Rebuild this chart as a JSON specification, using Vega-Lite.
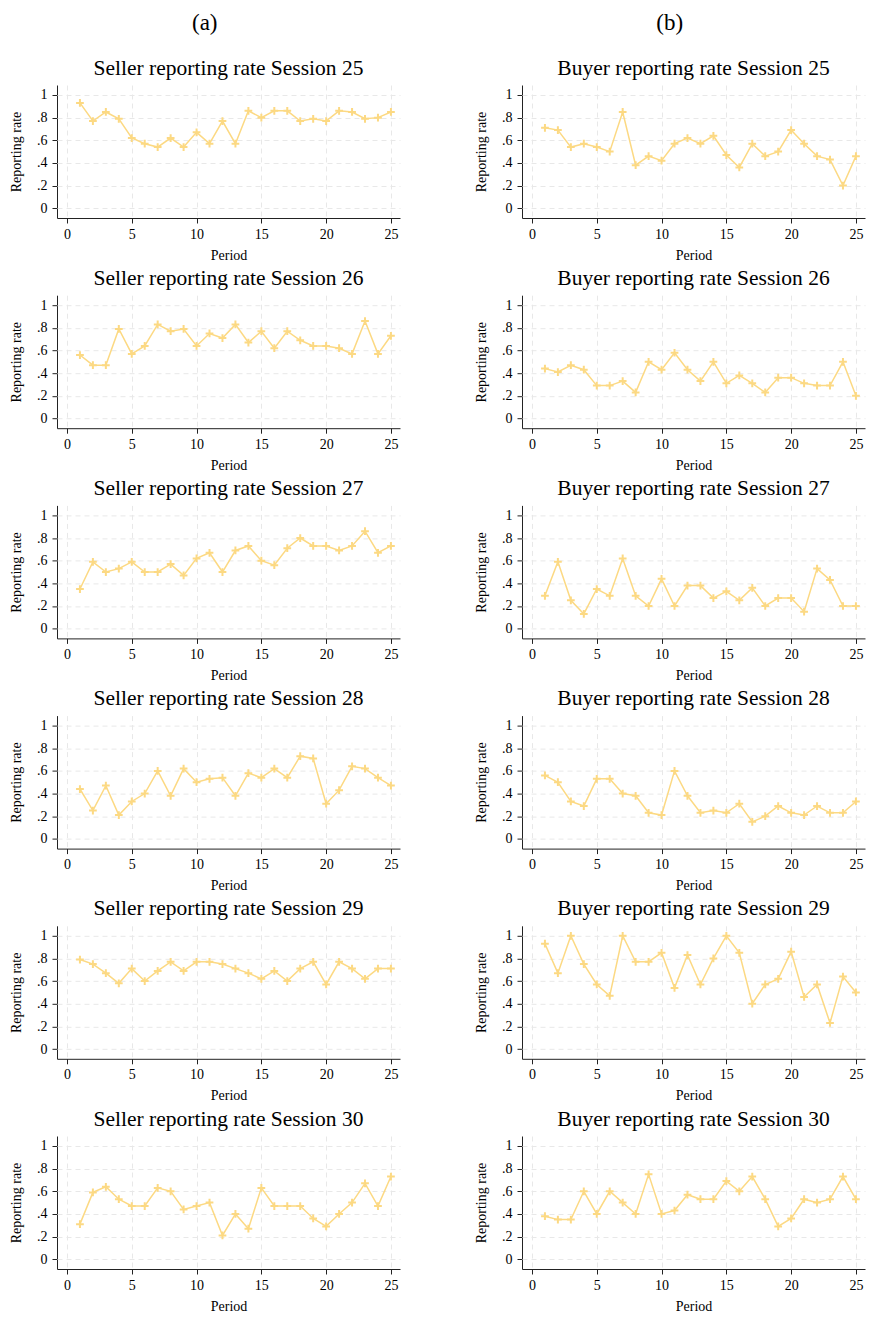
{
  "$schema": "https://vega.github.io/schema/vega-lite/v6.json",
  "background": "white",
  "padding": {"left": 9, "top": 11, "right": 2, "bottom": 2},
  "config": {
    "font": "Liberation Serif",
    "view": {"stroke": null},
    "axis": {
      "labelFont": "Liberation Serif",
      "titleFont": "Liberation Serif",
      "labelFontSize": 14,
      "titleFontSize": 14,
      "titleFontWeight": "normal",
      "labelColor": "black",
      "titleColor": "black",
      "domainColor": "#222222",
      "tickColor": "#222222",
      "tickSize": 5,
      "gridColor": "#e8e8e8",
      "gridDash": [5, 4],
      "gridWidth": 1
    },
    "header": {
      "labelFont": "Liberation Serif",
      "labelFontSize": 21.5,
      "labelColor": "black",
      "labelPadding": 6
    },
    "title": {"font": "Liberation Serif", "fontSize": 23, "fontWeight": "normal", "color": "black", "anchor": "middle"}
  },
  "data": {
    "values": [
      {"r":"S","s":25,"p":1,"v":0.93},{"r":"S","s":25,"p":2,"v":0.77},{"r":"S","s":25,"p":3,"v":0.85},{"r":"S","s":25,"p":4,"v":0.79},{"r":"S","s":25,"p":5,"v":0.62},{"r":"S","s":25,"p":6,"v":0.57},{"r":"S","s":25,"p":7,"v":0.54},{"r":"S","s":25,"p":8,"v":0.62},{"r":"S","s":25,"p":9,"v":0.54},{"r":"S","s":25,"p":10,"v":0.67},{"r":"S","s":25,"p":11,"v":0.57},{"r":"S","s":25,"p":12,"v":0.77},{"r":"S","s":25,"p":13,"v":0.57},{"r":"S","s":25,"p":14,"v":0.86},{"r":"S","s":25,"p":15,"v":0.80},{"r":"S","s":25,"p":16,"v":0.86},{"r":"S","s":25,"p":17,"v":0.86},{"r":"S","s":25,"p":18,"v":0.77},{"r":"S","s":25,"p":19,"v":0.79},{"r":"S","s":25,"p":20,"v":0.77},{"r":"S","s":25,"p":21,"v":0.86},{"r":"S","s":25,"p":22,"v":0.85},{"r":"S","s":25,"p":23,"v":0.79},{"r":"S","s":25,"p":24,"v":0.80},{"r":"S","s":25,"p":25,"v":0.85},
      {"r":"B","s":25,"p":1,"v":0.71},{"r":"B","s":25,"p":2,"v":0.69},{"r":"B","s":25,"p":3,"v":0.54},{"r":"B","s":25,"p":4,"v":0.57},{"r":"B","s":25,"p":5,"v":0.54},{"r":"B","s":25,"p":6,"v":0.50},{"r":"B","s":25,"p":7,"v":0.85},{"r":"B","s":25,"p":8,"v":0.38},{"r":"B","s":25,"p":9,"v":0.46},{"r":"B","s":25,"p":10,"v":0.42},{"r":"B","s":25,"p":11,"v":0.57},{"r":"B","s":25,"p":12,"v":0.62},{"r":"B","s":25,"p":13,"v":0.57},{"r":"B","s":25,"p":14,"v":0.64},{"r":"B","s":25,"p":15,"v":0.47},{"r":"B","s":25,"p":16,"v":0.36},{"r":"B","s":25,"p":17,"v":0.57},{"r":"B","s":25,"p":18,"v":0.46},{"r":"B","s":25,"p":19,"v":0.50},{"r":"B","s":25,"p":20,"v":0.69},{"r":"B","s":25,"p":21,"v":0.57},{"r":"B","s":25,"p":22,"v":0.46},{"r":"B","s":25,"p":23,"v":0.43},{"r":"B","s":25,"p":24,"v":0.20},{"r":"B","s":25,"p":25,"v":0.46},
      {"r":"S","s":26,"p":1,"v":0.56},{"r":"S","s":26,"p":2,"v":0.47},{"r":"S","s":26,"p":3,"v":0.47},{"r":"S","s":26,"p":4,"v":0.79},{"r":"S","s":26,"p":5,"v":0.57},{"r":"S","s":26,"p":6,"v":0.64},{"r":"S","s":26,"p":7,"v":0.83},{"r":"S","s":26,"p":8,"v":0.77},{"r":"S","s":26,"p":9,"v":0.79},{"r":"S","s":26,"p":10,"v":0.64},{"r":"S","s":26,"p":11,"v":0.75},{"r":"S","s":26,"p":12,"v":0.71},{"r":"S","s":26,"p":13,"v":0.83},{"r":"S","s":26,"p":14,"v":0.67},{"r":"S","s":26,"p":15,"v":0.77},{"r":"S","s":26,"p":16,"v":0.62},{"r":"S","s":26,"p":17,"v":0.77},{"r":"S","s":26,"p":18,"v":0.69},{"r":"S","s":26,"p":19,"v":0.64},{"r":"S","s":26,"p":20,"v":0.64},{"r":"S","s":26,"p":21,"v":0.62},{"r":"S","s":26,"p":22,"v":0.57},{"r":"S","s":26,"p":23,"v":0.86},{"r":"S","s":26,"p":24,"v":0.57},{"r":"S","s":26,"p":25,"v":0.73},
      {"r":"B","s":26,"p":1,"v":0.44},{"r":"B","s":26,"p":2,"v":0.41},{"r":"B","s":26,"p":3,"v":0.47},{"r":"B","s":26,"p":4,"v":0.43},{"r":"B","s":26,"p":5,"v":0.29},{"r":"B","s":26,"p":6,"v":0.29},{"r":"B","s":26,"p":7,"v":0.33},{"r":"B","s":26,"p":8,"v":0.23},{"r":"B","s":26,"p":9,"v":0.50},{"r":"B","s":26,"p":10,"v":0.43},{"r":"B","s":26,"p":11,"v":0.58},{"r":"B","s":26,"p":12,"v":0.43},{"r":"B","s":26,"p":13,"v":0.33},{"r":"B","s":26,"p":14,"v":0.50},{"r":"B","s":26,"p":15,"v":0.31},{"r":"B","s":26,"p":16,"v":0.38},{"r":"B","s":26,"p":17,"v":0.31},{"r":"B","s":26,"p":18,"v":0.23},{"r":"B","s":26,"p":19,"v":0.36},{"r":"B","s":26,"p":20,"v":0.36},{"r":"B","s":26,"p":21,"v":0.31},{"r":"B","s":26,"p":22,"v":0.29},{"r":"B","s":26,"p":23,"v":0.29},{"r":"B","s":26,"p":24,"v":0.50},{"r":"B","s":26,"p":25,"v":0.20},
      {"r":"S","s":27,"p":1,"v":0.35},{"r":"S","s":27,"p":2,"v":0.59},{"r":"S","s":27,"p":3,"v":0.50},{"r":"S","s":27,"p":4,"v":0.53},{"r":"S","s":27,"p":5,"v":0.59},{"r":"S","s":27,"p":6,"v":0.50},{"r":"S","s":27,"p":7,"v":0.50},{"r":"S","s":27,"p":8,"v":0.57},{"r":"S","s":27,"p":9,"v":0.47},{"r":"S","s":27,"p":10,"v":0.62},{"r":"S","s":27,"p":11,"v":0.67},{"r":"S","s":27,"p":12,"v":0.50},{"r":"S","s":27,"p":13,"v":0.69},{"r":"S","s":27,"p":14,"v":0.73},{"r":"S","s":27,"p":15,"v":0.60},{"r":"S","s":27,"p":16,"v":0.56},{"r":"S","s":27,"p":17,"v":0.71},{"r":"S","s":27,"p":18,"v":0.80},{"r":"S","s":27,"p":19,"v":0.73},{"r":"S","s":27,"p":20,"v":0.73},{"r":"S","s":27,"p":21,"v":0.69},{"r":"S","s":27,"p":22,"v":0.73},{"r":"S","s":27,"p":23,"v":0.86},{"r":"S","s":27,"p":24,"v":0.67},{"r":"S","s":27,"p":25,"v":0.73},
      {"r":"B","s":27,"p":1,"v":0.29},{"r":"B","s":27,"p":2,"v":0.59},{"r":"B","s":27,"p":3,"v":0.25},{"r":"B","s":27,"p":4,"v":0.13},{"r":"B","s":27,"p":5,"v":0.35},{"r":"B","s":27,"p":6,"v":0.29},{"r":"B","s":27,"p":7,"v":0.62},{"r":"B","s":27,"p":8,"v":0.29},{"r":"B","s":27,"p":9,"v":0.20},{"r":"B","s":27,"p":10,"v":0.44},{"r":"B","s":27,"p":11,"v":0.20},{"r":"B","s":27,"p":12,"v":0.38},{"r":"B","s":27,"p":13,"v":0.38},{"r":"B","s":27,"p":14,"v":0.27},{"r":"B","s":27,"p":15,"v":0.33},{"r":"B","s":27,"p":16,"v":0.25},{"r":"B","s":27,"p":17,"v":0.36},{"r":"B","s":27,"p":18,"v":0.20},{"r":"B","s":27,"p":19,"v":0.27},{"r":"B","s":27,"p":20,"v":0.27},{"r":"B","s":27,"p":21,"v":0.15},{"r":"B","s":27,"p":22,"v":0.53},{"r":"B","s":27,"p":23,"v":0.43},{"r":"B","s":27,"p":24,"v":0.20},{"r":"B","s":27,"p":25,"v":0.20},
      {"r":"S","s":28,"p":1,"v":0.44},{"r":"S","s":28,"p":2,"v":0.25},{"r":"S","s":28,"p":3,"v":0.47},{"r":"S","s":28,"p":4,"v":0.21},{"r":"S","s":28,"p":5,"v":0.33},{"r":"S","s":28,"p":6,"v":0.40},{"r":"S","s":28,"p":7,"v":0.60},{"r":"S","s":28,"p":8,"v":0.38},{"r":"S","s":28,"p":9,"v":0.62},{"r":"S","s":28,"p":10,"v":0.50},{"r":"S","s":28,"p":11,"v":0.53},{"r":"S","s":28,"p":12,"v":0.54},{"r":"S","s":28,"p":13,"v":0.38},{"r":"S","s":28,"p":14,"v":0.58},{"r":"S","s":28,"p":15,"v":0.54},{"r":"S","s":28,"p":16,"v":0.62},{"r":"S","s":28,"p":17,"v":0.54},{"r":"S","s":28,"p":18,"v":0.73},{"r":"S","s":28,"p":19,"v":0.71},{"r":"S","s":28,"p":20,"v":0.31},{"r":"S","s":28,"p":21,"v":0.43},{"r":"S","s":28,"p":22,"v":0.64},{"r":"S","s":28,"p":23,"v":0.62},{"r":"S","s":28,"p":24,"v":0.54},{"r":"S","s":28,"p":25,"v":0.47},
      {"r":"B","s":28,"p":1,"v":0.56},{"r":"B","s":28,"p":2,"v":0.50},{"r":"B","s":28,"p":3,"v":0.33},{"r":"B","s":28,"p":4,"v":0.29},{"r":"B","s":28,"p":5,"v":0.53},{"r":"B","s":28,"p":6,"v":0.53},{"r":"B","s":28,"p":7,"v":0.40},{"r":"B","s":28,"p":8,"v":0.38},{"r":"B","s":28,"p":9,"v":0.23},{"r":"B","s":28,"p":10,"v":0.21},{"r":"B","s":28,"p":11,"v":0.60},{"r":"B","s":28,"p":12,"v":0.38},{"r":"B","s":28,"p":13,"v":0.23},{"r":"B","s":28,"p":14,"v":0.25},{"r":"B","s":28,"p":15,"v":0.23},{"r":"B","s":28,"p":16,"v":0.31},{"r":"B","s":28,"p":17,"v":0.15},{"r":"B","s":28,"p":18,"v":0.20},{"r":"B","s":28,"p":19,"v":0.29},{"r":"B","s":28,"p":20,"v":0.23},{"r":"B","s":28,"p":21,"v":0.21},{"r":"B","s":28,"p":22,"v":0.29},{"r":"B","s":28,"p":23,"v":0.23},{"r":"B","s":28,"p":24,"v":0.23},{"r":"B","s":28,"p":25,"v":0.33},
      {"r":"S","s":29,"p":1,"v":0.79},{"r":"S","s":29,"p":2,"v":0.75},{"r":"S","s":29,"p":3,"v":0.67},{"r":"S","s":29,"p":4,"v":0.58},{"r":"S","s":29,"p":5,"v":0.71},{"r":"S","s":29,"p":6,"v":0.60},{"r":"S","s":29,"p":7,"v":0.69},{"r":"S","s":29,"p":8,"v":0.77},{"r":"S","s":29,"p":9,"v":0.69},{"r":"S","s":29,"p":10,"v":0.77},{"r":"S","s":29,"p":11,"v":0.77},{"r":"S","s":29,"p":12,"v":0.75},{"r":"S","s":29,"p":13,"v":0.71},{"r":"S","s":29,"p":14,"v":0.67},{"r":"S","s":29,"p":15,"v":0.62},{"r":"S","s":29,"p":16,"v":0.69},{"r":"S","s":29,"p":17,"v":0.60},{"r":"S","s":29,"p":18,"v":0.71},{"r":"S","s":29,"p":19,"v":0.77},{"r":"S","s":29,"p":20,"v":0.57},{"r":"S","s":29,"p":21,"v":0.77},{"r":"S","s":29,"p":22,"v":0.71},{"r":"S","s":29,"p":23,"v":0.62},{"r":"S","s":29,"p":24,"v":0.71},{"r":"S","s":29,"p":25,"v":0.71},
      {"r":"B","s":29,"p":1,"v":0.93},{"r":"B","s":29,"p":2,"v":0.67},{"r":"B","s":29,"p":3,"v":1.0},{"r":"B","s":29,"p":4,"v":0.75},{"r":"B","s":29,"p":5,"v":0.57},{"r":"B","s":29,"p":6,"v":0.47},{"r":"B","s":29,"p":7,"v":1.0},{"r":"B","s":29,"p":8,"v":0.77},{"r":"B","s":29,"p":9,"v":0.77},{"r":"B","s":29,"p":10,"v":0.85},{"r":"B","s":29,"p":11,"v":0.54},{"r":"B","s":29,"p":12,"v":0.83},{"r":"B","s":29,"p":13,"v":0.57},{"r":"B","s":29,"p":14,"v":0.80},{"r":"B","s":29,"p":15,"v":1.0},{"r":"B","s":29,"p":16,"v":0.85},{"r":"B","s":29,"p":17,"v":0.40},{"r":"B","s":29,"p":18,"v":0.57},{"r":"B","s":29,"p":19,"v":0.62},{"r":"B","s":29,"p":20,"v":0.86},{"r":"B","s":29,"p":21,"v":0.46},{"r":"B","s":29,"p":22,"v":0.57},{"r":"B","s":29,"p":23,"v":0.23},{"r":"B","s":29,"p":24,"v":0.64},{"r":"B","s":29,"p":25,"v":0.50},
      {"r":"S","s":30,"p":1,"v":0.31},{"r":"S","s":30,"p":2,"v":0.59},{"r":"S","s":30,"p":3,"v":0.64},{"r":"S","s":30,"p":4,"v":0.53},{"r":"S","s":30,"p":5,"v":0.47},{"r":"S","s":30,"p":6,"v":0.47},{"r":"S","s":30,"p":7,"v":0.63},{"r":"S","s":30,"p":8,"v":0.60},{"r":"S","s":30,"p":9,"v":0.44},{"r":"S","s":30,"p":10,"v":0.47},{"r":"S","s":30,"p":11,"v":0.50},{"r":"S","s":30,"p":12,"v":0.21},{"r":"S","s":30,"p":13,"v":0.40},{"r":"S","s":30,"p":14,"v":0.27},{"r":"S","s":30,"p":15,"v":0.63},{"r":"S","s":30,"p":16,"v":0.47},{"r":"S","s":30,"p":17,"v":0.47},{"r":"S","s":30,"p":18,"v":0.47},{"r":"S","s":30,"p":19,"v":0.36},{"r":"S","s":30,"p":20,"v":0.29},{"r":"S","s":30,"p":21,"v":0.40},{"r":"S","s":30,"p":22,"v":0.50},{"r":"S","s":30,"p":23,"v":0.67},{"r":"S","s":30,"p":24,"v":0.47},{"r":"S","s":30,"p":25,"v":0.73},
      {"r":"B","s":30,"p":1,"v":0.38},{"r":"B","s":30,"p":2,"v":0.35},{"r":"B","s":30,"p":3,"v":0.35},{"r":"B","s":30,"p":4,"v":0.60},{"r":"B","s":30,"p":5,"v":0.40},{"r":"B","s":30,"p":6,"v":0.60},{"r":"B","s":30,"p":7,"v":0.50},{"r":"B","s":30,"p":8,"v":0.40},{"r":"B","s":30,"p":9,"v":0.75},{"r":"B","s":30,"p":10,"v":0.40},{"r":"B","s":30,"p":11,"v":0.43},{"r":"B","s":30,"p":12,"v":0.57},{"r":"B","s":30,"p":13,"v":0.53},{"r":"B","s":30,"p":14,"v":0.53},{"r":"B","s":30,"p":15,"v":0.69},{"r":"B","s":30,"p":16,"v":0.60},{"r":"B","s":30,"p":17,"v":0.73},{"r":"B","s":30,"p":18,"v":0.53},{"r":"B","s":30,"p":19,"v":0.29},{"r":"B","s":30,"p":20,"v":0.36},{"r":"B","s":30,"p":21,"v":0.53},{"r":"B","s":30,"p":22,"v":0.50},{"r":"B","s":30,"p":23,"v":0.53},{"r":"B","s":30,"p":24,"v":0.73},{"r":"B","s":30,"p":25,"v":0.53}
    ]
  },
  "spacing": 74,
  "hconcat": [
    {
      "title": {"text": "(a)", "offset": 23},
      "transform": [{"filter": "datum.r == 'S'"}],
      "facet": {"field": "s", "type": "ordinal", "title": null,
        "header": {"labelExpr": "'Seller reporting rate Session ' + datum.value"}},
      "columns": 1,
      "spacing": 5.2,
      "resolve": {"axis": {"x": "independent"}},
      "spec": {
        "width": 343, "height": 133,
        "encoding": {
          "x": {"field": "p", "type": "quantitative",
            "scale": {"domain": [-0.77, 25.7], "nice": false, "zero": false},
            "axis": {"title": "Period", "values": [0, 5, 10, 15, 20, 25], "titlePadding": 7, "labelPadding": 4}},
          "y": {"field": "v", "type": "quantitative",
            "scale": {"domain": [-0.086, 1.088], "nice": false, "zero": false},
            "axis": {"title": "Reporting rate", "values": [0, 0.2, 0.4, 0.6, 0.8, 1], "labelPadding": 5,
              "labelExpr": "datum.value == 0 ? '0' : datum.value == 1 ? '1' : '.' + round(datum.value * 10)", "titlePadding": 13}}
        },
        "layer": [
          {"mark": {"type": "line", "color": "#fcd983", "strokeWidth": 1.5}},
          {"mark": {"type": "point", "shape": "M-1,0L1,0M0,-1L0,1", "filled": false, "strokeWidth": 2, "size": 60, "color": "#fcd983", "opacity": 1}}
        ]
      }
    },
    {
      "title": {"text": "(b)", "offset": 23},
      "transform": [{"filter": "datum.r == 'B'"}],
      "facet": {"field": "s", "type": "ordinal", "title": null,
        "header": {"labelExpr": "'Buyer reporting rate Session ' + datum.value"}},
      "columns": 1,
      "spacing": 5.2,
      "resolve": {"axis": {"x": "independent"}},
      "spec": {
        "width": 343, "height": 133,
        "encoding": {
          "x": {"field": "p", "type": "quantitative",
            "scale": {"domain": [-0.77, 25.7], "nice": false, "zero": false},
            "axis": {"title": "Period", "values": [0, 5, 10, 15, 20, 25], "titlePadding": 7, "labelPadding": 4}},
          "y": {"field": "v", "type": "quantitative",
            "scale": {"domain": [-0.086, 1.088], "nice": false, "zero": false},
            "axis": {"title": "Reporting rate", "values": [0, 0.2, 0.4, 0.6, 0.8, 1], "labelPadding": 5,
              "labelExpr": "datum.value == 0 ? '0' : datum.value == 1 ? '1' : '.' + round(datum.value * 10)", "titlePadding": 13}}
        },
        "layer": [
          {"mark": {"type": "line", "color": "#fcd983", "strokeWidth": 1.5}},
          {"mark": {"type": "point", "shape": "M-1,0L1,0M0,-1L0,1", "filled": false, "strokeWidth": 2, "size": 60, "color": "#fcd983", "opacity": 1}}
        ]
      }
    }
  ]
}
